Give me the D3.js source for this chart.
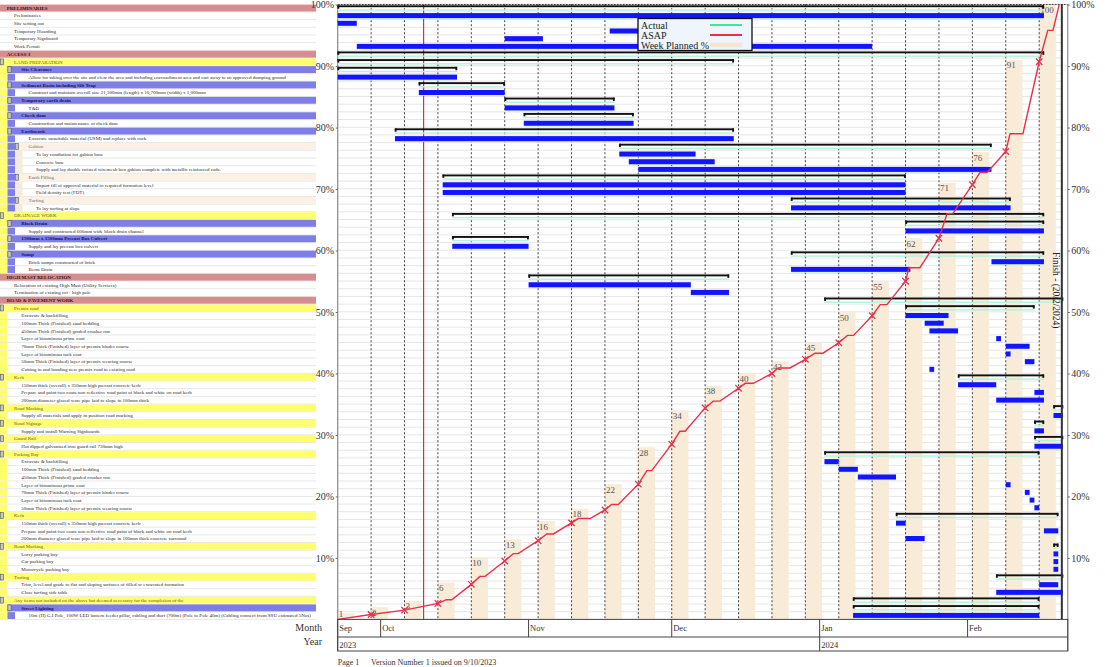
<!DOCTYPE html>
<html><head><meta charset="utf-8">
<script src="https://cdn.jsdelivr.net/npm/d3@7"></script>
<style>
html,body{margin:0;padding:0;background:#fff;}
svg{display:block;font-family:"Liberation Serif","Times New Roman",serif;}
</style></head><body>
<svg id="c" width="1105" height="667"></svg>
<script>
// ---------------- DATA ----------------
const taskNames = [
"PRELIMINARIES","Preliminaries","Site setting out","Temporary Hoarding","Temporary Signboard","Work Permit",
"ACCESS 3","LAND PREPARATION","Site Clearance",
"Allow for taking over the site and clear the area and including encroachment area and cart away to an approved dumping ground",
"Sediment Basin including Silt Trap","Construct and maintain overall size 21,300mm (length) x 10,700mm (width) x 1,000mm",
"Temporary earth drain","T&D","Check dam","Construction and maintenance of check dam",
"Earthwork","Excavate unsuitable material (USM) and replace with rock",
"Gabion","To lay condiution for gabion base","Concrete base",
"Supply and lay double twisted wiremesh box gabion complete with metallic reinforced rods.",
"Earth Filling","Import fill of approval material to required formation level","Field density test (FDT)",
"Turfing","To lay turfing at slope",
"DRAINAGE WORK","Block Drain","Supply and constructed 600mm wide block drain channel",
"1500mm x 1500mm Precast Box Culvert","Supply and lay precast box culvert",
"Sump","Brick sumps constructed of brick","Berm Drain",
"HIGH MAST RELOCATION","Relocation of existing High Mast (Utility Services)","Termination of existing cct+ high pole",
"ROAD & PAVEMENT WORK","Premix road","Excavate & backfilling","100mm Thick (Finished) sand bedding",
"450mm Thick (Finished) graded crusher run","Layer of bituminous prime coat",
"70mm Thick (Finished) layer of premix binder course","Layer of bituminous tack coat",
"50mm Thick (Finished) layer of premix wearing course","Cutting in and bonding new premix road to existing road",
"Kerb","150mm thick (overall) x 350mm high precast concrete kerb",
"Prepare and paint two coats non reflective road paint of black and white on road kerb",
"200mm diameter glazed ware pipe laid to slope in 100mm thick",
"Road Marking","Supply all materials and apply in position road marking",
"Road Signage","Supply and install Warning Signboards",
"Guard Rail","Hot dipped galvanised iron guard rail 730mm high",
"Parking Bay","Excavate & backfilling","100mm Thick (Finished) sand bedding","450mm Thick (Finished) graded crusher run",
"Layer of bituminous prime coat","70mm Thick (Finished) layer of premix binder course","Layer of bituminous tack coat",
"50mm Thick (Finished) layer of premix wearing course",
"Kerb","150mm thick (overall) x 350mm high precast concrete kerb",
"Prepare and paint two coats non reflective road paint of black and white on road kerb",
"200mm diameter glazed ware pipe laid to slope in 100mm thick concrete surround",
"Road Marking","Lorry parking bay","Car parking bay","Motorcycle parking bay",
"Turfing","Trim, level and grade to flat and sloping surfaces of filled or excavated formation","Close turfing side table",
"Any items not included on the above but deemed necessary for the completion of the",
"Street Lighting",
"10m (H) G.I Pole, 100W LED lantern feeder pillar, cabling and duct (700m) (Pole to Pole 40m) (Cabling connect from SSU estimated 5Nos)"
];
const taskLevels = [
0,1,1,1,1,1,
0,1,2,3,2,3,2,3,2,3,2,3,3,4,4,4,3,4,4,3,4,
1,2,3,2,3,2,3,3,
0,1,1,
0,1,2,2,2,2,2,2,2,2,
1,2,2,2,1,2,1,2,1,2,
1,2,2,2,2,2,2,2,
1,2,2,2,1,2,2,2,1,2,2,
1,2,3
];
const taskIsGroup = [
1,0,0,0,0,0,
1,1,1,0,1,0,1,0,1,0,1,0,1,0,0,0,1,0,0,1,0,
1,1,0,1,0,1,0,0,
1,0,0,
1,1,0,0,0,0,0,0,0,0,
1,0,0,0,1,0,1,0,1,0,
1,0,0,0,0,0,0,0,
1,0,0,0,1,0,0,0,1,0,0,
1,1,0
];
const taskStarts = [
"2023-09-22","2023-09-22","2023-09-22","2023-11-18","2023-10-27","2023-09-26",
"2023-09-22","2023-09-22","2023-09-22","2023-09-22","2023-10-09","2023-10-09","2023-10-27","2023-10-27",
"2023-10-31","2023-10-31","2023-10-04","2023-10-04","2023-11-20","2023-11-20","2023-11-22","2023-11-24",
"2023-10-14","2023-10-14","2023-10-14","2023-12-26","2023-12-26",
"2023-10-16","2024-01-19","2024-01-19","2023-10-16","2023-10-16","2023-12-26","2024-02-06","2023-12-26",
"2023-11-01","2023-11-01","2023-12-05",
"2024-01-02","2024-01-19","2024-01-19","2024-01-23","2024-01-24","2024-02-07","2024-02-09","2024-02-09","2024-02-13","2024-01-24",
"2024-01-30","2024-01-30","2024-02-15","2024-02-07","2024-02-19","2024-02-19","2024-02-15","2024-02-15","2024-02-15","2024-02-15",
"2024-01-02","2024-01-02","2024-01-05","2024-01-09","2024-02-09","2024-02-13","2024-02-14","2024-02-15",
"2024-01-17","2024-01-17","2024-02-17","2024-01-19","2024-02-19","2024-02-19","2024-02-19","2024-02-19",
"2024-02-07","2024-02-16","2024-02-07","2024-01-08","2024-01-08","2024-01-08"
];
const taskEnds = [
"2024-02-17","2024-02-17","2023-09-26","2023-12-01","2023-11-04","2024-01-12",
"2024-02-17","2023-12-14","2023-10-17","2023-10-17","2023-10-27","2023-10-27","2023-11-19","2023-11-19",
"2023-11-23","2023-11-23","2023-12-14","2023-12-14","2024-02-06","2023-12-06","2023-12-10","2024-02-06",
"2024-01-19","2024-01-19","2024-01-19","2024-02-10","2024-02-10",
"2024-02-17","2024-02-17","2024-02-17","2023-11-01","2023-11-01","2024-02-17","2024-02-17","2024-01-20",
"2023-12-13","2023-12-05","2023-12-13",
"2024-02-21","2024-02-15","2024-01-28","2024-01-27","2024-01-30","2024-02-08","2024-02-14","2024-02-10","2024-02-15","2024-01-25",
"2024-02-17","2024-02-07","2024-02-17","2024-02-17","2024-02-21","2024-02-21","2024-02-17","2024-02-17","2024-02-21","2024-02-21",
"2024-02-16","2024-01-05","2024-01-09","2024-01-17","2024-02-10","2024-02-14","2024-02-15","2024-02-16",
"2024-02-20","2024-01-19","2024-02-20","2024-01-23","2024-02-20","2024-02-20","2024-02-20","2024-02-20",
"2024-02-21","2024-02-20","2024-02-21","2024-02-16","2024-02-16","2024-02-16"
];
// Week planned % (one per week starting on project start)
const weekPlanned = [1,2,3,6,10,13,16,18,22,28,34,38,40,42,45,50,55,62,71,76,91,100];
// ASAP cumulative % (days after project start, value)
const asapDays = [0,7,14,21,22.8,23.9,28,29.8,30.9,35,36.8,37.8,42,43.8,45.2,49,50.4,52.9,56,57.4,58.8,
  63,64.8,65.8,70,71.7,72.8,77,78.7,80.1,84,85.4,87.1,91,92.3,94.8,98,100.0,101.7,105,106.8,108.1,
  112,113.7,115.1,119,119.7,122.0,126,127.7,128.9,133,134.6,136.1,140,140.9,143.6,147,148.8,149.9,151.2];
const asapValues = [0,0.8,1.5,2.6,3.2,3.2,5.7,7.0,7.0,9.5,10.7,10.7,12.8,13.9,13.9,15.7,16.4,16.4,17.8,18.7,18.7,
  22.0,24.2,24.2,28.5,30.6,30.6,34.4,35.5,35.5,37.6,38.4,38.4,40.0,40.9,40.9,42.3,43.3,43.3,45.0,46.2,46.2,
  49.4,51.2,51.2,55.0,57.2,57.2,62.0,66.0,66.0,70.7,72.7,72.7,76.1,79.0,79.0,90.7,95.8,95.8,100];
const asapMarkerDays = [7,14,21,28,35,42,49,56,63,70,77,84,91,98,105,112,119,126,133,140,147];
const monthLabels = ["Sep","Oct","Nov","Dec","Jan","Feb"];
const monthStarts = ["2023-09-22","2023-10-01","2023-11-01","2023-12-01","2024-01-01","2024-02-01"];
const yearLabels = ["2023","2024"];
const yearStarts = ["2023-09-22","2024-01-01"];
const pctTicks = [10,20,30,40,50,60,70,80,90,100];
const legendLabels = ["Actual","ASAP","Week Planned %"];
const projectStart = "2023-09-22";
const axisEnd = "2024-02-22";
const statusDate = "2023-10-10";
const finishDate = "2024-02-20T18:00";
const finishLabel = "Finish - (20/2/2024)";
const footerText = "Page 1      Version Number 1 issued on 9/10/2023";

// ---------------- DRAW ----------------
const svg = d3.select("#c");
const parse = d3.timeParse("%Y-%m-%d");
const parseT = d3.timeParse("%Y-%m-%dT%H:%M");
const t0 = parse(projectStart);
const X0 = 337.7, X1 = 1067.8, TOP = 4.2, BOT = 619.4;
const x = d3.scaleTime().domain([t0, parse(axisEnd)]).range([X0, X1]);
const yRow = d3.scaleBand().domain(d3.range(taskNames.length)).range([TOP, BOT]).paddingInner(0);
const rh = yRow.bandwidth();
const yPct = d3.scaleLinear().domain([0,100]).range([BOT, 4.6]);
const dayOff = d => d3.timeMinute.offset(t0, Math.round(d*1440));
const finishX = x(parseT(finishDate));
const PANEL_R = 316;

const lvlColor = ["#d68d90","#ffff6e","#7e7ee6","#fbf1e5"];
const stripColor = [null,"#ffff6e","#7e7ee6","#f6eadb"];

// left panel
const lp = svg.append("g");
taskNames.forEach((name,i)=>{
  const L = taskLevels[i], g = taskIsGroup[i], y0 = yRow(i);
  lp.append("line").attr("x1",0).attr("x2",PANEL_R).attr("y1",y0+rh).attr("y2",y0+rh)
    .attr("stroke","#d6d6d6").attr("stroke-width",0.6);
  for(let a=1;a<L;a++){
    lp.append("rect").attr("x",7.5*(a-1)).attr("y",y0+0.4).attr("width",7.5).attr("height",rh-0.8)
      .attr("fill",stripColor[a]);
  }
  if(g){
    const bx = L===0?0:7.5*(L-1);
    lp.append("rect").attr("x",bx).attr("y",y0+0.4).attr("width",PANEL_R-bx).attr("height",rh-0.8)
      .attr("fill",lvlColor[L]);
    if(L>0){
      lp.append("rect").attr("x",bx+0.4).attr("y",y0+0.9).attr("width",3.2).attr("height",rh-1.8)
        .attr("fill","#c8c8c8").attr("stroke","#555").attr("stroke-width",0.6);
    }
  }
  const col = g ? ["#3a1010","#6b5b10","#14145e","#6a6a6a"][L] : "#2a2a2a";
  lp.append("text").attr("x",6.7+7.3*L).attr("y",y0+rh*0.72)
    .attr("font-size",5).attr("fill",col)
    .attr("font-weight", g && (L===0||L===2) ? "bold" : "normal")
    .text(name);
});

// chart row lines
const cg = svg.append("g");
d3.range(taskNames.length+1).forEach(i=>{
  const yy = i<taskNames.length ? yRow(i) : BOT;
  cg.append("line").attr("x1",X0).attr("x2",finishX).attr("y1",yy).attr("y2",yy)
    .attr("stroke","#e0e0e0").attr("stroke-width",0.8);
});

// week planned columns
const weeks = weekPlanned.map((v,k)=>({v, d:d3.timeDay.offset(t0,7*k)}));
cg.selectAll("rect.wk").data(weeks).join("rect").attr("class","wk")
  .attr("x",d=>x(d.d)).attr("width",d=>x(d3.timeHour.offset(d.d,84))-x(d.d))
  .attr("y",d=>yPct(d.v)).attr("height",d=>BOT-yPct(d.v)).attr("fill","#f8ebd8");
cg.selectAll("text.wk").data(weeks).join("text").attr("class","wk")
  .attr("x",d=>x(d.d)+1).attr("y",d=>Math.min(yPct(d.v)+8.5,617))
  .attr("font-size",9).attr("fill","#555").text(d=>d.v);

// weekly dotted gridlines
const gridDates = d3.range(1,22).map(k=>d3.timeDay.offset(t0,7*k));
cg.selectAll("line.grid").data(gridDates).join("line").attr("class","grid")
  .attr("x1",d=>x(d)).attr("x2",d=>x(d)).attr("y1",TOP).attr("y2",BOT)
  .attr("stroke","#444").attr("stroke-width",1).attr("stroke-dasharray","2,2");
// top dotted border
cg.append("line").attr("x1",X0).attr("x2",X1).attr("y1",TOP+0.3).attr("y2",TOP+0.3)
  .attr("stroke","#444").attr("stroke-width",1).attr("stroke-dasharray","2,1");
// left border
cg.append("line").attr("x1",X0).attr("x2",X0).attr("y1",TOP).attr("y2",BOT).attr("stroke","#8a8a8a").attr("stroke-width",1.2);

// status line
cg.append("line").attr("x1",x(parse(statusDate))).attr("x2",x(parse(statusDate))).attr("y1",TOP).attr("y2",BOT)
  .attr("stroke","#e03030").attr("stroke-width",1.2);

// bars
const bars = taskNames.map((n,i)=>({i, g:taskIsGroup[i], s:parse(taskStarts[i]), e:parse(taskEnds[i])}));
const bg = svg.append("g");
bars.forEach(b=>{
  const y0 = yRow(b.i), xs = x(b.s), xe = x(b.e);
  if(b.g){
    bg.append("rect").attr("x",xs).attr("y",y0+5.1).attr("width",xe-xs).attr("height",1.4).attr("fill","#b4f1dd");
    bg.append("rect").attr("x",xs).attr("y",y0+1.1).attr("width",xe-xs).attr("height",1.9).attr("fill","#111");
    bg.append("rect").attr("x",xs-0.3).attr("y",y0+1.1).attr("width",1.9).attr("height",3.4).attr("fill","#111");
    bg.append("rect").attr("x",xe-1.6).attr("y",y0+1.1).attr("width",1.9).attr("height",3.4).attr("fill","#111");
  } else {
    bg.append("rect").attr("x",xs).attr("y",y0+5.9).attr("width",xe-xs).attr("height",1.1).attr("fill","#bff3e6");
    bg.append("rect").attr("x",xs).attr("y",y0+1.2).attr("width",xe-xs).attr("height",5).attr("fill","#1414ff");
  }
});

// ASAP line
const asap = asapDays.map((d,i)=>({t:dayOff(d), v:asapValues[i]}));
svg.append("path").datum(asap)
  .attr("d", d3.line().x(d=>x(d.t)).y(d=>yPct(d.v)))
  .attr("fill","none").attr("stroke","#e8304c").attr("stroke-width",1.4);
const mk = asapMarkerDays.map(d=>({t:dayOff(d), v:asapValues[asapDays.indexOf(d)]}));
svg.selectAll("path.mk").data(mk).join("path").attr("class","mk")
  .attr("d",d=>{const cx=x(d.t), cy=yPct(d.v), r=3.2; return `M${cx-r},${cy-r}L${cx+r},${cy+r}M${cx-r},${cy+r}L${cx+r},${cy-r}`;})
  .attr("stroke","#e8304c").attr("stroke-width",1.3);

// finish line
svg.append("line").attr("x1",finishX).attr("x2",finishX).attr("y1",TOP).attr("y2",BOT)
  .attr("stroke","#333").attr("stroke-width",2);
svg.append("text").attr("transform",`translate(${finishX-8.5},252) rotate(90)`)
  .attr("font-size",9.5).attr("fill","#222").text(finishLabel);

// right axis line
svg.append("line").attr("x1",X1).attr("x2",X1).attr("y1",TOP).attr("y2",651).attr("stroke","#777").attr("stroke-width",1);

// percent axes
const la = svg.append("g").attr("transform",`translate(${X0},0)`)
  .call(d3.axisLeft(yPct).tickValues(pctTicks).tickFormat(d=>d+"%").tickSize(2).tickPadding(1.5));
const ra = svg.append("g").attr("transform",`translate(${X1},0)`)
  .call(d3.axisRight(yPct).tickValues(pctTicks).tickFormat(d=>d+"%").tickSize(2).tickPadding(1.5));
[la,ra].forEach(a=>{
  a.select(".domain").remove();
  a.selectAll("text").attr("font-size",10).attr("fill","#333").attr("font-family","Liberation Serif");
  a.selectAll("line").attr("stroke","#666");
});

// month / year boxes
const mb = svg.append("g");
mb.append("rect").attr("x",X0).attr("y",BOT).attr("width",X1-X0).attr("height",651-BOT)
  .attr("fill","none").attr("stroke","#444").attr("stroke-width",1);
mb.append("line").attr("x1",X0).attr("x2",X1).attr("y1",637).attr("y2",637).attr("stroke","#444");
monthStarts.forEach((m,i)=>{
  const xx = x(parse(m));
  mb.append("line").attr("x1",xx).attr("x2",xx).attr("y1",BOT).attr("y2",637).attr("stroke","#444");
  mb.append("text").attr("x",xx+1.5).attr("y",631).attr("font-size",8.5).attr("fill","#333").text(monthLabels[i]);
});
yearStarts.forEach((m,i)=>{
  const xx = x(parse(m));
  mb.append("line").attr("x1",xx).attr("x2",xx).attr("y1",637).attr("y2",651).attr("stroke","#444");
  mb.append("text").attr("x",xx+1.5).attr("y",647.5).attr("font-size",8.5).attr("fill","#333").text(yearLabels[i]);
});
mb.append("text").attr("x",322).attr("y",631).attr("text-anchor","end").attr("font-size",10).attr("fill","#333").text("Month");
mb.append("text").attr("x",322).attr("y",645).attr("text-anchor","end").attr("font-size",10).attr("fill","#333").text("Year");

// footer
svg.append("text").attr("x",X0).attr("y",664.5).attr("font-size",8).attr("fill","#333")
  .attr("xml:space","preserve").style("white-space","pre").text(footerText);

// legend
const lg = svg.append("g").attr("transform","translate(638,18.5)");
lg.append("rect").attr("width",114).attr("height",32).attr("fill","#eef5fc").attr("stroke","#111").attr("stroke-width",1.3);
const lgStroke = ["#3ee6a2","#e8304c","#f6e6cf"], lgW = [2,2,4.5];
legendLabels.forEach((t,i)=>{
  const yy = 6.5+10*i;
  lg.append("text").attr("x",3).attr("y",yy+3.5).attr("font-size",10).attr("fill","#222").text(t);
  lg.append("line").attr("x1",72).attr("x2",104).attr("y1",yy).attr("y2",yy)
    .attr("stroke",lgStroke[i]).attr("stroke-width",lgW[i]);
});
</script>
</body></html>
